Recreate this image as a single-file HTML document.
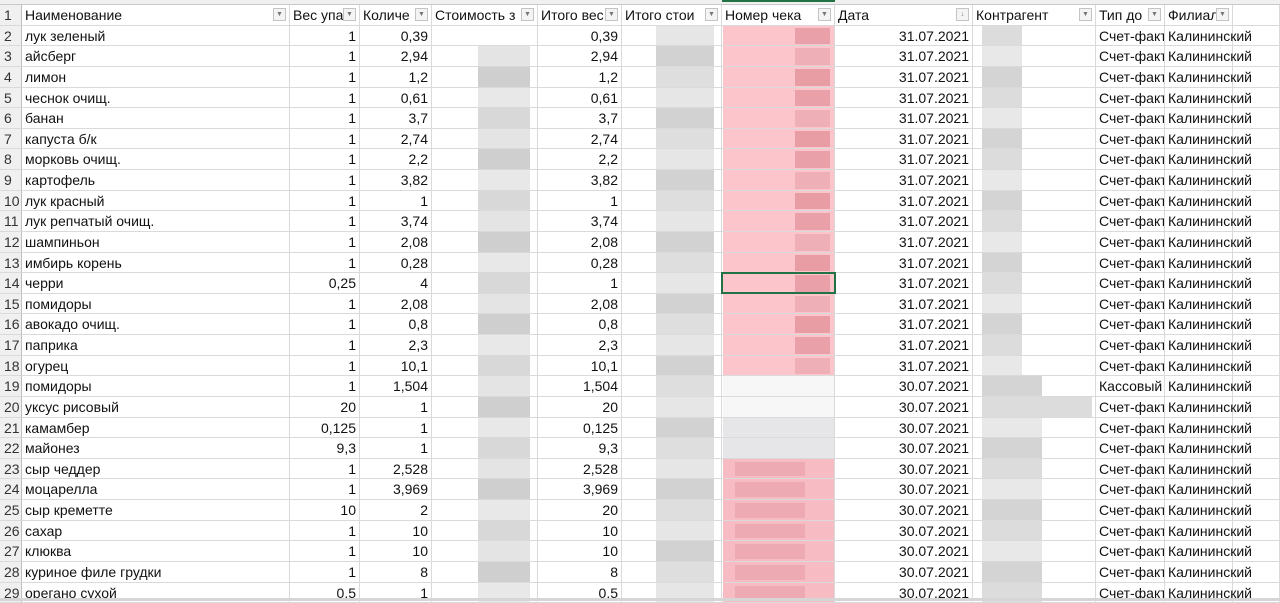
<!DOCTYPE html>
<html><head><meta charset="utf-8">
<style>
html,body{margin:0;padding:0;width:1280px;height:601px;overflow:hidden;background:#fff;font-family:"Liberation Sans","DejaVu Sans",sans-serif;}
#sheet{position:absolute;left:0;top:0;width:1280px;height:601px;}
.c{position:absolute;box-sizing:border-box;border-right:1px solid #dadada;border-bottom:1px solid #dadada;font-size:14px;line-height:20px;white-space:nowrap;overflow:hidden;padding:0 3px;color:#111;}
.r{text-align:right;}
.rn{background:#f0f0f0;color:#333;text-align:left;padding-left:4px;border-right:1px solid #bfbfbf;}
.hd{font-weight:normal;}
.dd{position:absolute;top:3px;width:13px;height:13px;border:1px solid #c4c4c4;background:#f4f4f4;box-sizing:border-box;font-size:7px;line-height:11px;text-align:center;color:#777;}
.bl{position:absolute;}
</style></head><body>
<div id="sheet"></div>
<script>
const xs=[0,22,290,360,432,538,622,722,835,973,1096,1165,1233,1280];
const headers=["Наименование","Вес упа","Количе","Стоимость з","Итого вес","Итого стои","Номер чека","Дата","Контрагент","Тип до","Филиал",""];
const names=["лук зеленый","айсберг","лимон","чеснок очищ.","банан","капуста б/к","морковь очищ.","картофель","лук красный","лук репчатый очищ.","шампиньон","имбирь корень","черри","помидоры","авокадо очищ.","паприка","огурец","помидоры","уксус рисовый","камамбер","майонез","сыр чеддер","моцарелла","сыр креметте","сахар","клюква","куриное филе грудки","орегано сухой"];
const weights=["1","1","1","1","1","1","1","1","1","1","1","1","0,25","1","1","1","1","1","20","0,125","9,3","1","1","10","1","1","1","0,5"];
const qty=["0,39","2,94","1,2","0,61","3,7","2,74","2,2","3,82","1","3,74","2,08","0,28","4","2,08","0,8","2,3","10,1","1,504","1","1","1","2,528","3,969","2","10","10","8","1"];
const totals=["0,39","2,94","1,2","0,61","3,7","2,74","2,2","3,82","1","3,74","2,08","0,28","1","2,08","0,8","2,3","10,1","1,504","20","0,125","9,3","2,528","3,969","20","10","10","8","0,5"];
const dates=["31.07.2021","31.07.2021","31.07.2021","31.07.2021","31.07.2021","31.07.2021","31.07.2021","31.07.2021","31.07.2021","31.07.2021","31.07.2021","31.07.2021","31.07.2021","31.07.2021","31.07.2021","31.07.2021","31.07.2021","30.07.2021","30.07.2021","30.07.2021","30.07.2021","30.07.2021","30.07.2021","30.07.2021","30.07.2021","30.07.2021","30.07.2021","30.07.2021"];
const S=document.getElementById('sheet');
const top0=5,rh=20.63;
function cell(x0,x1,y,h,txt,cls,name){
 const d=document.createElement('div');
 d.className='c '+(cls||'');
 d.style.left=x0+'px';d.style.top=y+'px';d.style.width=(x1-x0)+'px';d.style.height=h+'px';
 d.textContent=txt;
 
 
 S.appendChild(d);return d;
}
function blob(x,y,w,h,col,name){
 const d=document.createElement('div');d.className='bl';
 d.style.left=x+'px';d.style.top=y+'px';d.style.width=w+'px';d.style.height=h+'px';d.style.background=col;
 
 
 S.appendChild(d);
}
const ts=document.createElement('div');ts.style.cssText='position:absolute;left:0;top:0;width:1280px;height:5px;background:#f0f0f0;border-bottom:1px solid #c8c8c8;box-sizing:border-box';


S.appendChild(ts);
cell(0,22,top0,rh,"1","rn","row-number-1");
for(let i=0;i<12;i++){
 const c=cell(xs[i+1],xs[i+2],top0,rh,headers[i],'hd','header-'+(i+1));
 if(headers[i]){
  const dd=document.createElement('div');dd.className='dd';dd.textContent=i==7?'↓':'▼';
  dd.style.left=(xs[i+2]-xs[i+1]-17)+'px';
  
  
  c.appendChild(dd);c.style.paddingRight='18px';
 }
}
for(let k=0;k<28;k++){
 const y=top0+(k+1)*rh;
 const g1=['#d8d8d8','#e4e4e4','#cfcfcf','#e8e8e8'][k%4];
 blob(478,y,52,rh,k==0?'#fff':g1,'blurred-cost');
 blob(656,y,58,rh,['#e6e6e6','#d2d2d2','#dedede'][k%3],'blurred-total-cost');
 if(k<17){blob(723,y,111,rh,'#fcc4cb','receipt-pink');blob(795,y+2,35,rh-4,['#e9a0a8','#eeb0b6','#e89ca4'][k%3],'receipt-dark');}
 else if(k<21){blob(723,y,111,rh,k<19?'#f7f7f7':'#e6e6e8','receipt-grey');}
 else{blob(723,y,111,rh,'#f7bcc3','receipt-pink');blob(735,y+3,70,rh-6,'#eeaab2','receipt-dark');}
 blob(982,y,k<17?40:(k==18?110:60),rh,['#dcdcdc','#e8e8e8','#d4d4d4'][k%3],'blurred-contractor');
}
for(let k=0;k<28;k++){
 const y=top0+(k+1)*rh, rn=k+2;
 cell(0,22,y,rh,String(rn),'rn','row-number-'+rn);
 cell(22,290,y,rh,names[k],'','name-cell');
 cell(290,360,y,rh,weights[k],'r','weight-cell');
 cell(360,432,y,rh,qty[k],'r','qty-cell');
 cell(432,538,y,rh,'','', 'cost-cell').style.background='transparent';
 cell(538,622,y,rh,totals[k],'r','total-weight-cell');
 cell(622,722,y,rh,'','','total-cost-cell').style.background='transparent';
 cell(722,835,y,rh,'','','receipt-cell').style.background='transparent';
 cell(835,973,y,rh,dates[k],'r','date-cell');
 cell(973,1096,y,rh,'','','contractor-cell');
 cell(1096,1165,y,rh,k==17?'Кассовый':'Счет-факт','','doc-type-cell');
 cell(1165,1233,y,rh,'Калининский','','branch-cell').style.overflow='visible';
 cell(1233,1280,y,rh,'','','empty-cell');
}
const sel=document.createElement('div');
sel.style.cssText='position:absolute;left:721px;top:'+(top0+13*rh-1)+'px;width:115px;height:'+(rh+1)+'px;border:2px solid #217346;box-sizing:border-box';


S.appendChild(sel);
const hl=document.createElement('div');hl.style.cssText='position:absolute;left:722px;top:0;width:113px;height:2px;background:#217346';


S.appendChild(hl);
const sb=document.createElement('div');sb.style.cssText='position:absolute;left:0;top:598px;width:1280px;height:3px;background:#d6d6d6';


S.appendChild(sb);
</script>
</body></html>
